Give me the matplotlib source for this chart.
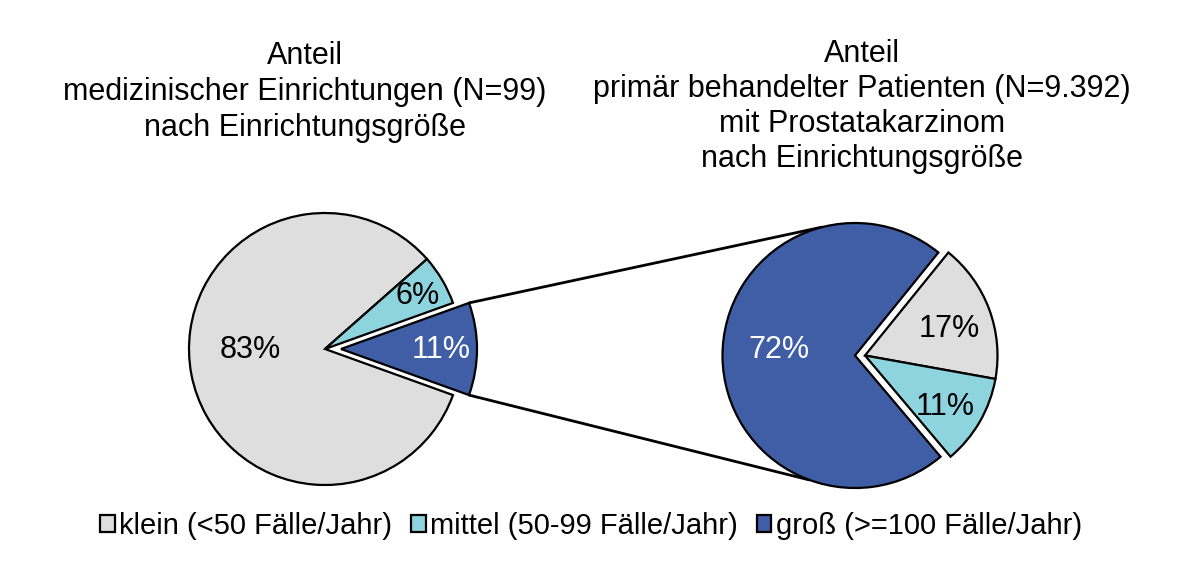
import matplotlib
matplotlib.use("Agg")
import matplotlib.pyplot as plt
import numpy as np

plt.rcParams['font.family'] = ['Liberation Sans', 'DejaVu Sans']

categories = ["klein (<50 Fälle/Jahr)", "mittel (50-99 Fälle/Jahr)", "groß (>=100 Fälle/Jahr)"]
einrichtungen = [83, 6, 11]
patienten = [17, 11, 72]
title_left = "Anteil\nmedizinischer Einrichtungen (N=99)\nnach Einrichtungsgröße"
title_right = "Anteil\nprimär behandelter Patienten (N=9.392)\nmit Prostatakarzinom\nnach Einrichtungsgröße"

colors = ["#dedede", "#8dd4de", "#3f5ea6"]
text_colors = ["black", "black", "white"]

W, H = 1200, 588
fig = plt.figure(figsize=(12, 5.88), dpi=100)
ax = fig.add_axes([0, 0, 1, 1])

edge = dict(edgecolor="black", linewidth=1.6)
FS = 22

# Left pie
c1 = (325, H - 349)
r1 = 136
w1, _, t1 = ax.pie(einrichtungen, colors=colors, center=c1, radius=r1,
                   startangle=-19.8, counterclock=False,
                   explode=[0, 0, 16], wedgeprops=edge,
                   autopct=lambda p: f"{p:.0f}%", pctdistance=0.6,
                   textprops=dict(fontsize=FS))
# Right pie
c2 = (855, H - 355.5)
r2 = 132.5
w2, _, t2 = ax.pie(patienten, colors=colors, center=c2, radius=r2,
                   startangle=51, counterclock=False, wedgeprops=edge,
                   autopct=lambda p: f"{p:.0f}%", pctdistance=0.6,
                   textprops=dict(fontsize=FS))
# shift small wedges of right pie to the right together
for w in w2[:2]:
    cx, cy = w.center
    w.set_center((cx + 10, cy))

for txts in (t1, t2):
    for t, col in zip(txts, text_colors):
        t.set_color(col)

label_pos1 = [(250, H - 350), (418, H - 296), (441, H - 350)]
label_pos2 = [(949, H - 329), (945, H - 407), (779, H - 350)]
for t, p in zip(t1, label_pos1):
    t.set_position(p)
for t, p in zip(t2, label_pos2):
    t.set_position(p)

ax.set_xlim(0, W)
ax.set_ylim(0, H)
ax.set_aspect('equal')
ax.axis('off')

# connection lines
bw = w1[2]
bc = np.array(bw.center)
for ang1, ang2 in [(bw.theta2, 104), (bw.theta1, -110)]:
    p1 = bc + r1 * np.array([np.cos(np.radians(ang1)), np.sin(np.radians(ang1))])
    p2 = np.array(c2) + r2 * np.array([np.cos(np.radians(ang2)), np.sin(np.radians(ang2))])
    ax.plot([p1[0], p2[0]], [p1[1], p2[1]], color="black", lw=2.0, zorder=0.5,
            solid_capstyle='butt')

ax.text(305, H - 136, title_left, ha="center", va="baseline", fontsize=FS,
        linespacing=1.27)
ax.text(862, H - 167, title_right, ha="center", va="baseline", fontsize=FS,
        linespacing=1.22)

fig.legend(w1, categories, loc="center", bbox_to_anchor=(591 / W, 1 - 526 / H),
           ncol=3, frameon=False, fontsize=21, handlelength=0.5,
           handleheight=0.55, handletextpad=0.15, columnspacing=0.65)

fig.savefig("out.png", dpi=100)
